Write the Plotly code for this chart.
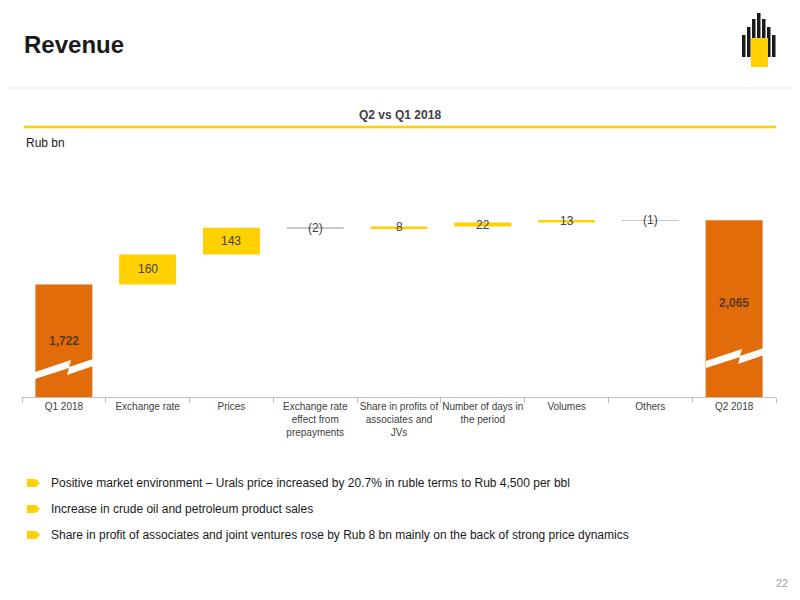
import plotly.graph_objects as go

categories = ["Q1 2018", "Exchange rate", "Prices", "Exchange rate<br>effect from<br>prepayments",
              "Share in profits of<br>associates and<br>JVs", "Number of days in<br>the period",
              "Volumes", "Others", "Q2 2018"]
values = [1722, 160, 143, -2, 8, 22, 13, -1, 2065]
labels = ["1,722", "160", "143", "(2)", "8", "22", "13", "(1)", "2,065"]
bullets = ["Positive market environment – Urals price increased by 20.7% in ruble terms to Rub 4,500 per bbl",
           "Increase in crude oil and petroleum product sales",
           "Share in profit of associates and joint ventures rose by Rub 8 bn mainly on the back of strong price dynamics"]

ORANGE = "#E36C0A"; YELLOW = "#FFD100"; GREY = "#C8C8C8"
AXMIN = 1120
W, H, OFF = 792, 592, 8

def px(X):
    return (X - OFF) / W

def py(Y):
    return 1 - (Y - OFF) / H

bases, heights, colors = [], [], []
run = 0
for i, v in enumerate(values):
    if i == 0 or i == len(values) - 1:
        bases.append(AXMIN); heights.append(v - AXMIN); colors.append(ORANGE); run = v
    else:
        lo = min(run, run + v)
        h = abs(v)
        if v < 0:
            colors.append(GREY); h = 1.2
        else:
            colors.append(YELLOW)
        bases.append(lo); heights.append(h); run += v

fig = go.Figure(go.Bar(x=categories, y=heights, base=bases, marker_color=colors,
                       marker_line_width=0, width=0.68, hoverinfo="skip"))
for i, v in enumerate(values):
    if i in (0, len(values) - 1):
        y = bases[i] + heights[i] * (0.5 if i == 0 else 0.53)
        fig.add_annotation(x=categories[i], y=y, text="<b>%s</b>" % labels[i], showarrow=False,
                           yanchor="middle", font=dict(size=12, color="#5a3a20"))
    else:
        fig.add_annotation(x=categories[i], y=bases[i] + heights[i] / 2, text=labels[i], showarrow=False,
                           yanchor="middle", font=dict(size=12, color="#404040"))

fig.update_layout(
    width=W, height=H, margin=dict(l=0, r=0, t=0, b=0, autoexpand=False),
    paper_bgcolor="white", plot_bgcolor="white", showlegend=False,
    font=dict(family="Liberation Sans, Arial", color="#404040"),
    xaxis=dict(domain=[px(22), px(776)], showline=True, linecolor="#BFBFBF", ticks="outside",
               tickson="boundaries", tickcolor="#BFBFBF", ticklen=5, tickangle=0, automargin=False,
               tickfont=dict(size=10, color="#404040"), fixedrange=True),
    yaxis=dict(domain=[py(397), py(160)], range=[AXMIN, 2387], visible=False),
)

def zig(X, Y):
    x0, y0 = px(X), py(Y)
    dx, dy = 1 / W, 1 / H
    pts = [(0, 6), (36, -6), (34, 1), (70, -11), (70, -4), (32, 9), (34, 2), (0, 13)]
    path = "M " + " L ".join(f"{x0 + a*dx},{y0 - b*dy}" for a, b in pts) + " Z"
    return dict(type="path", xref="paper", yref="paper", fillcolor="white", line=dict(width=0), path=path)
fig.add_shape(zig(35, 366))
fig.add_shape(zig(706, 355))

def note(X, Y, text, size, color, xanchor="left"):
    fig.add_annotation(xref="paper", yref="paper", x=px(X), y=py(Y), xanchor=xanchor, yanchor="middle",
                       text=text, showarrow=False, font=dict(size=size, color=color))

note(22, 44, "<b>Revenue</b>", 24, "#1a1a1a")
fig.add_shape(type="line", xref="paper", yref="paper", x0=0, x1=1, y0=py(88), y1=py(88),
              line=dict(color="#E6E6E6", width=1))
note(400, 115, "<b>Q2 vs Q1 2018</b>", 12, "#404040", "center")
fig.add_shape(type="line", xref="paper", yref="paper", x0=px(24), x1=px(776), y0=py(127), y1=py(127),
              line=dict(color=YELLOW, width=2.5))
note(24, 143, "Rub bn", 12, "#1a1a1a")

for k, b in enumerate(bullets):
    Y = 483 + 26 * k
    fig.add_shape(type="path", xref="paper", yref="paper", fillcolor=YELLOW, line=dict(width=0),
                  path=f"M {px(27)},{py(Y-4)} L {px(36)},{py(Y-4)} L {px(40)},{py(Y)} L {px(36)},{py(Y+4)} L {px(27)},{py(Y+4)} Z")
    note(49, Y, b, 12, "#1a1a1a")

note(790, 583, "22", 11, "#A0A0A0", "right")

# logo
for i, h in enumerate([22, 30, 38, 44, 38, 30, 22]):
    X = 742 + i * 5
    fig.add_shape(type="rect", xref="paper", yref="paper", x0=px(X), x1=px(X + 3.5),
                  y0=py(57), y1=py(57 - h), fillcolor="#1a1a1a", line=dict(width=0))
fig.add_shape(type="rect", xref="paper", yref="paper", x0=px(751), x1=px(768), y0=py(67), y1=py(38),
              fillcolor=YELLOW, line=dict(width=0))

fig.write_html("out.html")
